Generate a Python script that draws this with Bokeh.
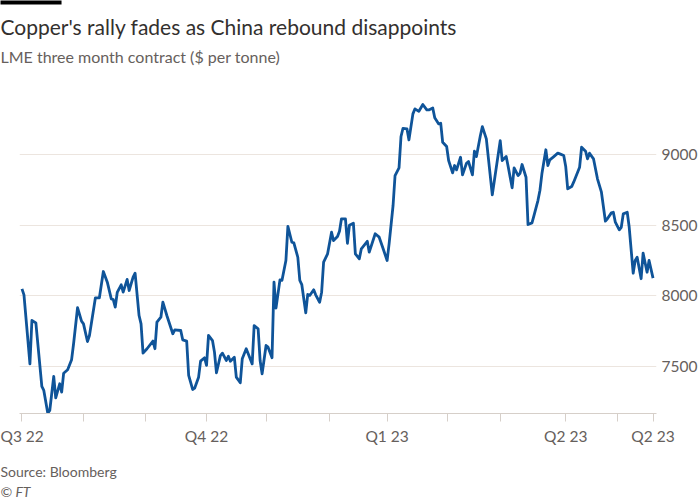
import pandas as pd
from bokeh.plotting import figure
from bokeh.models import ColumnDataSource, FixedTicker, Range1d, Title
from bokeh.embed import file_html
from bokeh.resources import INLINE

# ---- data ----
dates = [
    "2022-07-01", "2022-07-02", "2022-07-04", "2022-07-05", "2022-07-06", "2022-07-08", "2022-07-11", "2022-07-12",
    "2022-07-14", "2022-07-15", "2022-07-17", "2022-07-18", "2022-07-20", "2022-07-21", "2022-07-22", "2022-07-24",
    "2022-07-26", "2022-07-27", "2022-07-29", "2022-07-31", "2022-08-01", "2022-08-03", "2022-08-04", "2022-08-07",
    "2022-08-09", "2022-08-11", "2022-08-13", "2022-08-15", "2022-08-16", "2022-08-17", "2022-08-18", "2022-08-20",
    "2022-08-21", "2022-08-23", "2022-08-24", "2022-08-26", "2022-08-27", "2022-08-29", "2022-08-30", "2022-08-31",
    "2022-09-02", "2022-09-05", "2022-09-06", "2022-09-07", "2022-09-09", "2022-09-10", "2022-09-12", "2022-09-15",
    "2022-09-16", "2022-09-19", "2022-09-20", "2022-09-22", "2022-09-23", "2022-09-25", "2022-09-26", "2022-09-28",
    "2022-09-29", "2022-10-01", "2022-10-02", "2022-10-03", "2022-10-05", "2022-10-06", "2022-10-07", "2022-10-09",
    "2022-10-10", "2022-10-12", "2022-10-13", "2022-10-14", "2022-10-16", "2022-10-17", "2022-10-19", "2022-10-20",
    "2022-10-22", "2022-10-23", "2022-10-25", "2022-10-26", "2022-10-28", "2022-10-29", "2022-10-30", "2022-11-01",
    "2022-11-02", "2022-11-04", "2022-11-05", "2022-11-06", "2022-11-08", "2022-11-09", "2022-11-11", "2022-11-12",
    "2022-11-14", "2022-11-15", "2022-11-17", "2022-11-18", "2022-11-19", "2022-11-21", "2022-11-22", "2022-11-23",
    "2022-11-25", "2022-11-26", "2022-11-28", "2022-11-29", "2022-11-30", "2022-12-02", "2022-12-04", "2022-12-05",
    "2022-12-07", "2022-12-08", "2022-12-09", "2022-12-11", "2022-12-12", "2022-12-13", "2022-12-15", "2022-12-16",
    "2022-12-18", "2022-12-19", "2022-12-22", "2022-12-23", "2022-12-26", "2022-12-28", "2022-12-30", "2023-01-01",
    "2023-01-02", "2023-01-04", "2023-01-05", "2023-01-07", "2023-01-08", "2023-01-09", "2023-01-11", "2023-01-12",
    "2023-01-14", "2023-01-15", "2023-01-17", "2023-01-19", "2023-01-21", "2023-01-22", "2023-01-24", "2023-01-25",
    "2023-01-27", "2023-01-28", "2023-01-29", "2023-01-31", "2023-02-01", "2023-02-03", "2023-02-04", "2023-02-05",
    "2023-02-07", "2023-02-08", "2023-02-10", "2023-02-11", "2023-02-13", "2023-02-14", "2023-02-15", "2023-02-17",
    "2023-02-18", "2023-02-20", "2023-02-23", "2023-02-24", "2023-02-27", "2023-02-28", "2023-03-02", "2023-03-03",
    "2023-03-05", "2023-03-06", "2023-03-08", "2023-03-09", "2023-03-10", "2023-03-12", "2023-03-13", "2023-03-15",
    "2023-03-16", "2023-03-18", "2023-03-19", "2023-03-20", "2023-03-22", "2023-03-23", "2023-03-24", "2023-03-26",
    "2023-03-28", "2023-03-29", "2023-03-31", "2023-04-01", "2023-04-02", "2023-04-04", "2023-04-05", "2023-04-08",
    "2023-04-09", "2023-04-11", "2023-04-12", "2023-04-13", "2023-04-15", "2023-04-17", "2023-04-19", "2023-04-21",
    "2023-04-22", "2023-04-24", "2023-04-25", "2023-04-26", "2023-04-28", "2023-04-29", "2023-04-30", "2023-05-02",
    "2023-05-03", "2023-05-05", "2023-05-06", "2023-05-07", "2023-05-09", "2023-05-10", "2023-05-12", "2023-05-13",
    "2023-05-15",
]
prices = [
    8050, 8008, 7685, 7520, 7827, 7810, 7360, 7332,
    7171, 7190, 7431, 7280, 7379, 7320, 7454, 7478,
    7549, 7662, 7917, 7822, 7803, 7678, 7721, 7987,
    7987, 8173, 8098, 7980, 7975, 7921, 8025, 8079,
    8027, 8117, 8039, 8133, 8161, 7862, 7803, 7596,
    7627, 7681, 7627, 7815, 7850, 7956, 7862, 7733,
    7761, 7756, 7690, 7681, 7438, 7339, 7348, 7426,
    7539, 7563, 7509, 7721, 7685, 7603, 7457, 7579,
    7596, 7544, 7574, 7539, 7567, 7426, 7386, 7556,
    7627, 7591, 7520, 7791, 7768, 7544, 7450, 7650,
    7638, 7563, 8098, 7914, 8114, 8110, 8251, 8493,
    8380, 8376, 8274, 8110, 8081, 7881, 8011, 8004,
    8044, 8008, 7956, 8027, 8239, 8298, 8451, 8392,
    8421, 8458, 8546, 8546, 8373, 8500, 8515, 8298,
    8263, 8334, 8387, 8310, 8440, 8416, 8334, 8251,
    8369, 8640, 8852, 8906, 9128, 9186, 9182, 9104,
    9288, 9323, 9306, 9354, 9316, 9316, 9330, 9260,
    9217, 9222, 9087, 9057, 8958, 8871, 8923, 8892,
    8981, 8857, 8939, 8951, 8857, 9024, 8986, 9135,
    9198, 9111, 8715, 8812, 9099, 8958, 8986, 8916,
    8765, 8906, 8852, 8868, 8930, 8840, 8505, 8517,
    8569, 8675, 8746, 8864, 9034, 8923, 8963, 8986,
    9010, 9005, 8993, 8916, 8758, 8774, 8805, 8911,
    9052, 9024, 8970, 9010, 8970, 8829, 8734, 8529,
    8546, 8588, 8592, 8522, 8468, 8486, 8581, 8592,
    8486, 8161, 8251, 8274, 8122, 8303, 8168, 8251,
    8126,
]
y_ticks = [7500, 8000, 8500, 9000]
# month tick marks as placed in the reference (first trading day of each month)
tick_dates = ["2022-07-01", "2022-08-01", "2022-09-01", "2022-10-02", "2022-11-01", "2022-12-03",
              "2023-01-01", "2023-01-31 12:00", "2023-02-27", "2023-04-01", "2023-04-27", "2023-05-15"]
tick_labels = ["Q3 22", "", "", "Q4 22", "", "", "Q1 23", "", "", "Q2 23", "", "Q2 23"]

title_text = "Copper's rally fades as China rebound disappoints"
subtitle_text = "LME three month contract ($ per tonne)"
source_text = "Source: Bloomberg"
credit_text = "\u00a9 FT"

FONT = "Lato"
GREY = "#66605c"
BLUE = "#0f5499"

src = ColumnDataSource(dict(date=pd.to_datetime(dates), price=prices))

p = figure(width=700, height=500, x_axis_type="datetime", y_axis_location="right",
           output_backend="svg", toolbar_location=None,
           x_range=Range1d(pd.Timestamp("2022-06-29 18:00"), pd.Timestamp("2023-05-16 18:00")),
           y_range=Range1d(7169, 9623),
           min_border_left=19, min_border_right=44, min_border_top=66, min_border_bottom=87)
p.outline_line_color = None
p.background_fill_color = "white"
p.border_fill_color = "white"

p.line("date", "price", source=src, line_color=BLUE, line_width=2.8, line_join="round")

# y axis
p.yaxis.ticker = FixedTicker(ticks=y_ticks)
p.yaxis.axis_line_color = None
p.yaxis.major_tick_line_color = None
p.yaxis.minor_tick_line_color = None
p.yaxis.major_tick_out = 0
p.yaxis.major_tick_in = 0
p.yaxis.minor_tick_out = 0
p.yaxis.major_label_standoff = 5
p.yaxis.major_label_text_font = FONT
p.yaxis.major_label_text_font_size = "15.5px"
p.yaxis.major_label_text_color = GREY
p.ygrid.ticker = FixedTicker(ticks=y_ticks)
p.ygrid.grid_line_color = "#ece5df"
p.ygrid.grid_line_width = 1
p.xgrid.visible = False

# x axis
tick_ms = [pd.Timestamp(d).value / 1e6 for d in tick_dates]
p.xaxis.ticker = FixedTicker(ticks=tick_ms)
p.xaxis.major_label_overrides = {t: lab for t, lab in zip(tick_ms, tick_labels)}
p.xaxis.axis_line_color = "#d6cfc9"
p.xaxis.major_tick_line_color = "#d6cfc9"
p.xaxis.minor_tick_line_color = None
p.xaxis.major_tick_in = 0
p.xaxis.major_tick_out = 8
p.xaxis.major_label_standoff = 5
p.xaxis.major_label_text_font = FONT
p.xaxis.major_label_text_font_size = "15.5px"
p.xaxis.major_label_text_color = GREY

# header (nearest the frame first) and footer
p.add_layout(Title(text=subtitle_text, align="left", offset=-19, standoff=2,
                   text_font=FONT, text_font_size="16px", text_color=GREY,
                   text_font_style="normal"), "above")
p.add_layout(Title(text=title_text, align="left", offset=-19, standoff=9.6,
                   text_font=FONT, text_font_size="21px", text_color="#33302e",
                   text_font_style="normal"), "above")
p.add_layout(Title(text="\u2003" * 24, align="left", offset=-19, standoff=-0.16,
                   vertical_align="top",
                   text_font=FONT, text_font_size="3.4px", text_color="black",
                   background_fill_color="black", text_font_style="normal"), "above")
p.add_layout(Title(text=source_text, align="left", offset=-19, standoff=26,
                   text_font=FONT, text_font_size="14px", text_color=GREY,
                   text_font_style="normal"), "below")
p.add_layout(Title(text=credit_text, align="left", offset=-19, standoff=-18.8,
                   vertical_align="top",
                   text_font=FONT, text_font_size="14px", text_color=GREY,
                   text_font_style="italic"), "below")

open("out.html", "w").write(file_html(p, INLINE))
